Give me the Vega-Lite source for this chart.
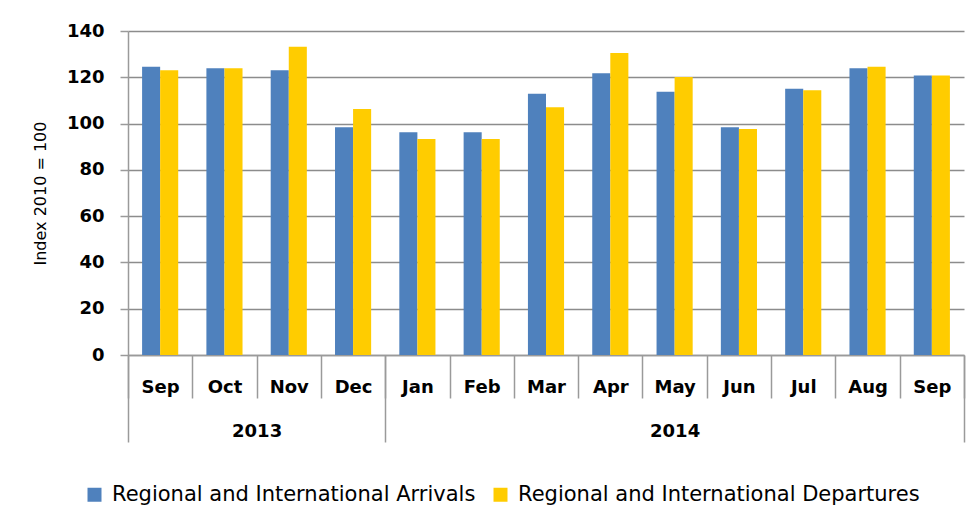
{
  "$schema": "https://vega.github.io/schema/vega-lite/v6.json",
  "width": 836,
  "height": 324,
  "autosize": {"type": "none"},
  "padding": {"left": 128, "top": 31, "right": 8, "bottom": 170},
  "background": "white",
  "config": {"view": {"stroke": null}, "font": "DejaVu Sans"},
  "datasets": {
    "bars": [
      {"key": "Sep|2013", "series": "Regional and International Arrivals", "value": 124.6},
      {"key": "Sep|2013", "series": "Regional and International Departures", "value": 123.0},
      {"key": "Oct|2013", "series": "Regional and International Arrivals", "value": 123.9},
      {"key": "Oct|2013", "series": "Regional and International Departures", "value": 123.9},
      {"key": "Nov|2013", "series": "Regional and International Arrivals", "value": 123.0},
      {"key": "Nov|2013", "series": "Regional and International Departures", "value": 133.2},
      {"key": "Dec|2013", "series": "Regional and International Arrivals", "value": 98.4},
      {"key": "Dec|2013", "series": "Regional and International Departures", "value": 106.3},
      {"key": "Jan|2014", "series": "Regional and International Arrivals", "value": 96.2},
      {"key": "Jan|2014", "series": "Regional and International Departures", "value": 93.3},
      {"key": "Feb|2014", "series": "Regional and International Arrivals", "value": 96.2},
      {"key": "Feb|2014", "series": "Regional and International Departures", "value": 93.3},
      {"key": "Mar|2014", "series": "Regional and International Arrivals", "value": 112.9},
      {"key": "Mar|2014", "series": "Regional and International Departures", "value": 107.0},
      {"key": "Apr|2014", "series": "Regional and International Arrivals", "value": 121.7},
      {"key": "Apr|2014", "series": "Regional and International Departures", "value": 130.5},
      {"key": "May|2014", "series": "Regional and International Arrivals", "value": 113.7},
      {"key": "May|2014", "series": "Regional and International Departures", "value": 120.1},
      {"key": "Jun|2014", "series": "Regional and International Arrivals", "value": 98.4},
      {"key": "Jun|2014", "series": "Regional and International Departures", "value": 97.7},
      {"key": "Jul|2014", "series": "Regional and International Arrivals", "value": 115.1},
      {"key": "Jul|2014", "series": "Regional and International Departures", "value": 114.4},
      {"key": "Aug|2014", "series": "Regional and International Arrivals", "value": 123.9},
      {"key": "Aug|2014", "series": "Regional and International Departures", "value": 124.5},
      {"key": "Sep|2014", "series": "Regional and International Arrivals", "value": 120.8},
      {"key": "Sep|2014", "series": "Regional and International Departures", "value": 120.8}
    ],
    "years": [
      {"pos": 0},
      {"pos": 13}
    ]
  },
  "layer": [
    {
      "data": {"name": "bars"},
      "mark": {"type": "bar"},
      "encoding": {
        "x": {
          "field": "key",
          "type": "nominal",
          "sort": ["Sep|2013", "Oct|2013", "Nov|2013", "Dec|2013", "Jan|2014", "Feb|2014", "Mar|2014", "Apr|2014", "May|2014", "Jun|2014", "Jul|2014", "Aug|2014", "Sep|2014"],
          "scale": {"paddingInner": 0, "paddingOuter": 0},
          "axis": {
            "title": null,
            "labelExpr": "isValid(datum.value) ? split(datum.value, '|')[0] : ''",
            "labelAngle": 0,
            "tickBand": "extent",
            "tickSize": 43,
            "tickColor": "#9a9a9a",
            "tickWidth": 1.5,
            "domainColor": "#9a9a9a",
            "domainWidth": 1.5,
            "labelFont": "DejaVu Sans",
            "labelFontWeight": "bold",
            "labelFontSize": 18,
            "labelColor": "black",
            "labelPadding": -20,
            "grid": false
          }
        },
        "xOffset": {
          "field": "series",
          "type": "nominal",
          "sort": ["Regional and International Arrivals", "Regional and International Departures"],
          "scale": {"paddingInner": 0, "paddingOuter": 0.78}
        },
        "y": {
          "field": "value",
          "type": "quantitative",
          "scale": {"domain": [0, 140], "nice": false},
          "axis": {
            "title": "Index 2010 = 100",
            "titleFont": "DejaVu Sans",
            "titleFontSize": 16,
            "titleFontWeight": "normal",
            "titleColor": "black",
            "titlePadding": 18,
            "values": [0, 20, 40, 60, 80, 100, 120, 140],
            "labelFont": "DejaVu Sans",
            "labelFontWeight": "bold",
            "labelFontSize": 18,
            "labelColor": "black",
            "labelPadding": 16,
            "tickSize": 8,
            "tickColor": "#9a9a9a",
            "tickWidth": 1.5,
            "domainColor": "#9a9a9a",
            "domainWidth": 1.5,
            "gridColor": "#8c8c8c",
            "gridWidth": 1.5
          }
        },
        "color": {
          "field": "series",
          "type": "nominal",
          "scale": {
            "domain": ["Regional and International Arrivals", "Regional and International Departures"],
            "range": ["#4F81BD", "#FFCC00"]
          },
          "legend": {
            "title": null,
            "orient": "none",
            "legendX": -44,
            "legendY": 453,
            "direction": "horizontal",
            "symbolType": "square",
            "symbolSize": 196,
            "symbolStrokeWidth": 0,
            "labelFont": "DejaVu Sans",
            "labelFontSize": 21,
            "labelColor": "black",
            "labelOffset": 7,
            "columnPadding": 14,
            "padding": 0,
            "labelLimit": 600
          }
        }
      }
    },
    {
      "data": {"name": "years"},
      "mark": {"type": "point", "opacity": 0},
      "encoding": {
        "x": {
          "field": "pos",
          "type": "quantitative",
          "scale": {"domain": [0, 13], "nice": false, "zero": false},
          "axis": {
            "orient": "bottom",
            "title": null,
            "grid": false,
            "domain": false,
            "values": [0, 2, 4, 8.5, 13],
            "labelExpr": "datum.value == 2 ? '2013' : (datum.value == 8.5 ? '2014' : '')",
            "labelFlush": false,
            "labelOverlap": false,
            "tickSize": 87,
            "tickColor": "#9a9a9a",
            "tickWidth": 1.5,
            "tickOpacity": {"condition": {"test": "datum.value == 2 || datum.value == 8.5", "value": 0}, "value": 1},
            "labelFont": "DejaVu Sans",
            "labelFontWeight": "bold",
            "labelFontSize": 18,
            "labelColor": "black",
            "labelPadding": -20
          }
        }
      }
    }
  ],
  "resolve": {"scale": {"x": "independent"}, "axis": {"x": "independent"}}
}
